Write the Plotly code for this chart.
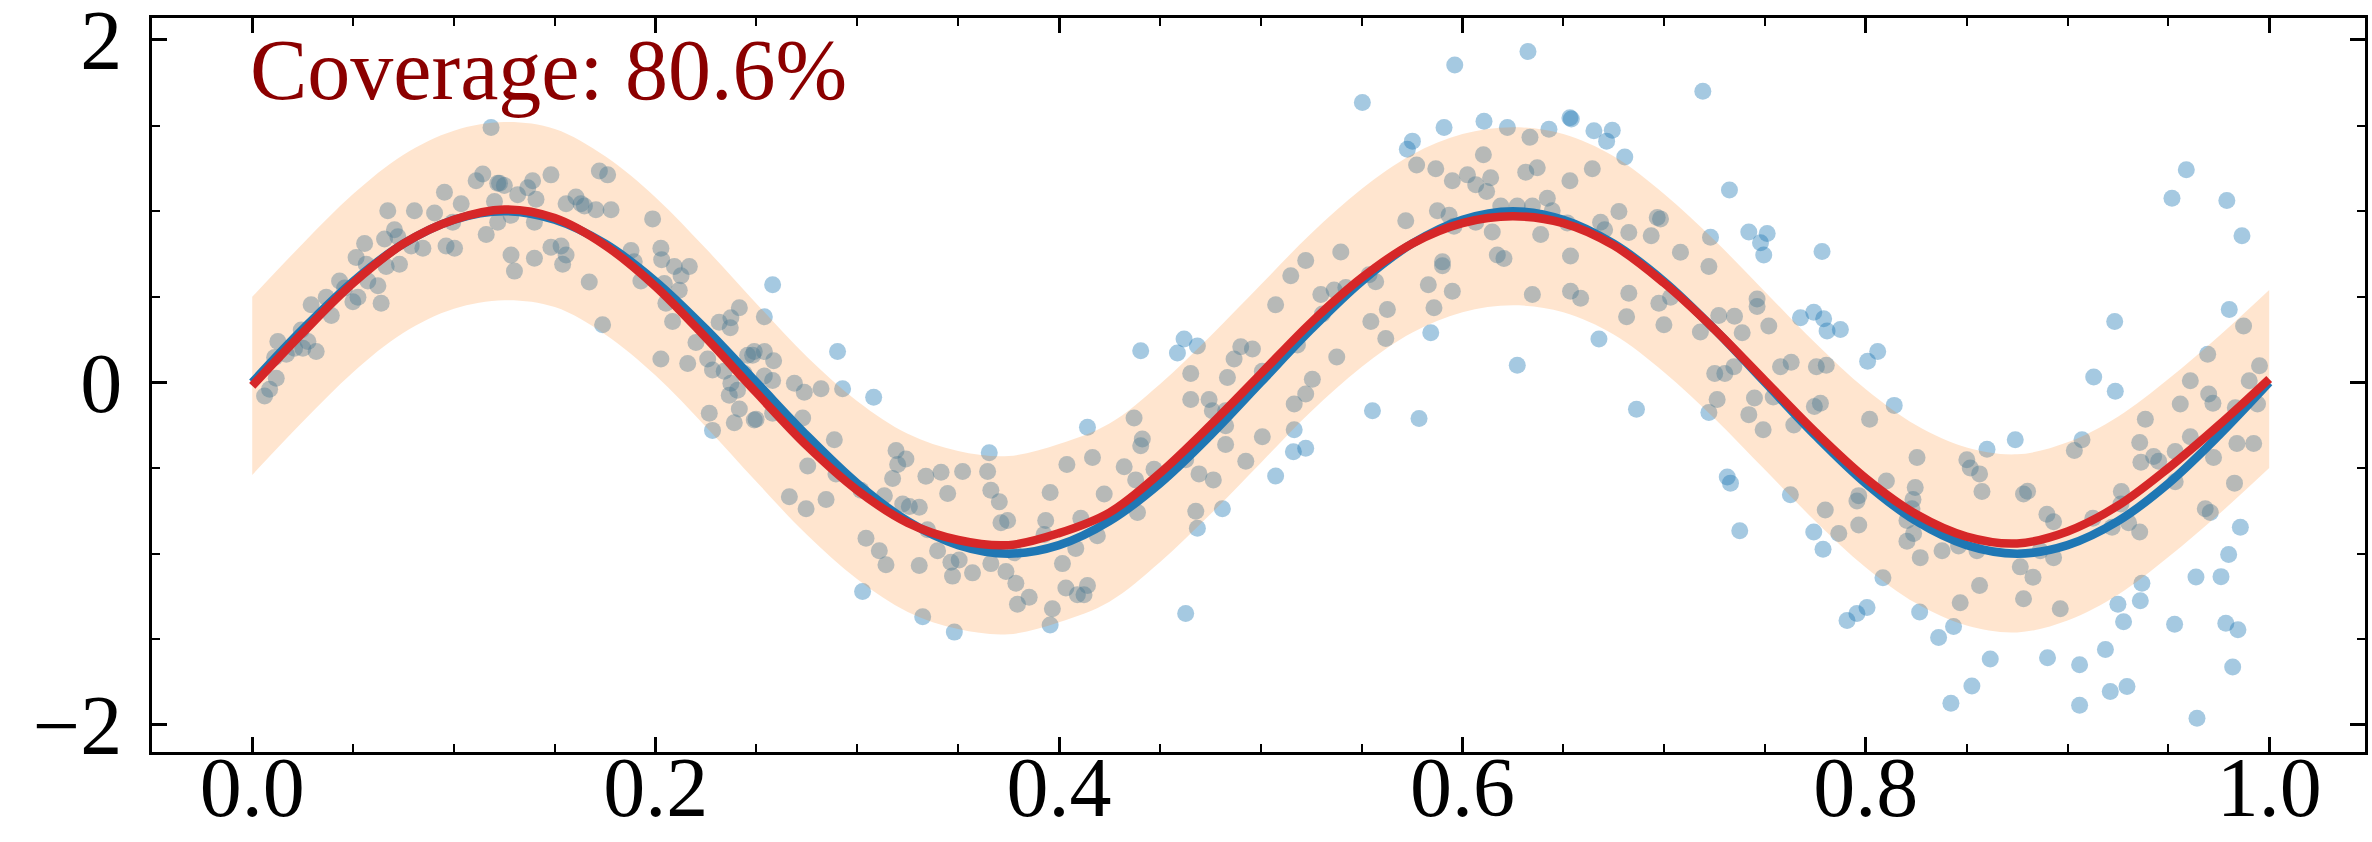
import plotly.graph_objects as go

# ---------------- data ----------------
x_obs = [
 0.0061,0.0086,0.0119,0.0127,0.0111,0.0169,0.0210,0.0243,0.0276,0.0251,0.0317,0.0292,0.0367,0.0392,0.0433,0.0458,0.0499,0.0524,0.0515,0.0557,
 0.0565,0.0573,0.0623,0.0639,0.0664,0.0656,0.0672,0.0705,0.0722,0.0730,0.0788,0.0804,0.0846,0.0904,0.0953,0.0961,0.1003,0.0994,0.1036,0.1110,
 0.1143,0.1160,0.1184,0.1201,0.1226,0.1217,
 0.1217,0.1250,0.1283,0.1316,0.1366,0.1390,0.1407,0.1481,0.1399,0.1283,0.1300,0.1399,0.1481,0.1531,0.1556,0.1539,0.1556,0.1605,0.1630,0.1647,
 0.1704,0.1721,0.1762,0.1779,0.1671,0.1737,0.1878,0.1894,0.1927,0.1985,0.2026,0.2030,0.2043,0.2093,0.2126,0.2167,0.2117,0.2051,0.2084,0.2026,
 0.2159,0.2200,0.2258,0.2282,0.2315,0.2373,0.2370,0.2415,0.2340,0.2373,0.2406,0.2456,0.2489,0.2365,0.2415,0.2390,0.2266,0.2282,0.2489,0.2439,
 0.2580,0.2539,0.2481,0.2539,0.2585,0.2539,0.2580,0.2498,0.2580,0.2688,0.2737,0.2820,0.2729,0.2927,0.2902,0.3081,0.2886,0.2894,0.2754,0.2663,
 0.2746,0.2845,0.3018,0.3134,0.3043,0.3109,0.3142,0.3026,0.3192,0.3200,0.3241,0.3175,0.3225,0.3258,0.3307,0.3348,0.3340,0.3415,0.3448,0.3522,
 0.3646,0.3654,0.3662,0.3704,0.3712,0.3745,0.3307,0.3398,0.3464,0.3505,0.3472,0.3571,0.3662,0.3737,0.3778,0.3786,0.3794,0.3324,0.3481,
 0.3852,0.3934,0.3926,0.3956,0.4017,0.4034,0.3967,0.3956,0.4091,0.4124,0.4141,0.4083,0.4108,0.4190,0.4224,0.4039,0.4166,0.4141,0.4323,0.4372,
 0.4405,0.4413,0.4380,0.4389,0.4471,0.4405,0.4587,0.4620,0.4686,0.4653,0.4653,0.4628,0.4694,0.4678,0.4686,0.4628,0.4744,0.4760,0.4826,0.4826,
 0.4826,0.4765,0.4810,0.4835,0.4868,0.4901,0.4959,0.5008,0.4926,0.5008,0.5074,0.5074,
 0.5149,0.5223,0.5166,0.5162,0.5223,0.5166,0.5223,0.5256,0.5182,0.5306,0.5298,0.5364,0.5422,0.5397,0.5377,0.5504,0.5537,0.5570,0.5546,0.5620,
 0.5628,0.5554,0.5719,0.5727,0.5752,0.5773,0.5785,0.5831,0.5843,0.5859,0.5868,0.5876,0.5901,0.5901,0.5909,0.5934,0.5950,0.5950,0.5958,0.5962,
 0.6025,0.6066,0.6066,0.6107,0.6104,0.6120,0.6140,0.6148,0.6173,0.6206,0.6190,0.6223,0.6272,0.6272,0.6325,0.6335,0.6314,0.6347,0.6347,0.6371,
 0.6388,
 0.6429,0.6421,0.6445,0.6533,0.6540,0.6533,0.6520,0.6536,0.6536,0.6586,0.6644,0.6652,0.6715,0.6743,0.6685,0.6705,0.6677,0.6776,0.6805,0.6825,
 0.6825,0.6814,0.6863,0.6936,0.6966,0.6982,0.6974,0.6999,0.7032,0.7081,0.7192,0.7180,0.7222,0.7230,0.7271,0.7251,0.7263,0.7222,0.7301,0.7346,
 0.7349,0.7387,0.7324,0.7420,0.7478,0.7511,0.7494,0.7461,0.7461,0.7519,0.7448,0.7420,0.7491,0.7541,0.7577,0.7630,0.7643,0.7313,0.7329,0.7375,
 0.7626,0.7676,
 0.7783,0.7742,0.7791,0.7808,0.7874,0.7755,0.7804,0.8009,0.8059,0.7745,0.7775,0.8019,0.8141,0.7799,0.7742,0.7788,0.7866,0.7965,0.7956,0.7965,
 0.8102,0.8254,0.8245,0.8234,0.8229,0.8204,0.8237,0.8204,0.8270,0.8085,0.8006,0.7956,0.7907,0.8267,0.8361,0.8435,0.8468,0.8378,0.8460,0.8551,
 0.8564,0.8501,0.8518,0.8564,0.8576,0.8601,0.8741,0.8782,0.8802,0.8766,0.8829,0.8782,0.8865,0.8898,0.8931,0.8931,0.8964,0.8617,0.8526,0.8422,
 0.8901,
 0.9034,0.9072,0.9060,0.9060,0.9130,0.9126,0.9188,0.9212,0.9295,0.9234,0.9237,0.9221,0.9267,0.9265,0.9303,0.9250,0.9278,0.9358,0.9369,0.9361,
 0.9358,0.9386,0.9364,0.9427,0.9452,0.9534,0.9534,0.9531,0.9518,0.9589,0.9559,0.9609,0.9609,0.9637,0.9642,0.9683,0.9708,0.9695,0.9700,0.9721,
 0.9724,0.9761,0.9785,0.9799,0.9819,0.9845,0.9790,0.9865,0.9802,0.9873,0.9832,0.9840,0.9828,0.9857,0.9901,0.9923,0.9942,0.9952,
]
y_obs = [
 -0.079,-0.040,0.025,0.239,0.145,0.164,0.199,0.306,0.239,0.199,0.180,0.453,0.498,0.391,0.592,0.552,0.471,0.498,0.730,0.811,
 0.690,0.592,0.565,0.463,0.677,0.837,1.003,0.891,0.851,0.690,0.797,1.003,0.784,0.989,1.110,0.797,0.784,0.936,1.043,1.177,
 1.217,0.864,1.489,1.056,1.163,0.936,
 1.163,1.150,0.976,1.096,1.137,1.177,1.070,1.212,0.936,0.744,0.650,0.725,0.789,0.797,0.744,0.690,1.043,1.083,1.043,1.030,
 1.008,1.235,1.212,1.008,0.586,0.337,0.770,0.704,0.592,0.955,0.784,0.717,0.578,0.677,0.623,0.677,0.538,0.463,0.356,0.137,
 0.110,0.233,0.137,0.073,0.351,0.378,0.319,0.436,0.065,-0.005,-0.045,0.159,0.180,-0.075,-0.155,-0.235,-0.180,-0.280,-0.220,0.052,
 0.570,0.383,0.159,0.180,0.126,0.038,0.011,-0.215,-0.180,-0.005,-0.058,-0.037,-0.208,-0.037,0.180,-0.086,-0.335,-0.534,-0.488,-0.667,
 -0.737,-0.684,-0.630,-0.662,-0.910,-0.983,-1.064,-1.221,-0.398,-0.479,-0.447,-0.561,-0.710,-0.724,-0.729,-0.860,-0.548,-0.525,-0.648,-0.520,
 -0.520,-0.411,-0.630,-0.697,-0.819,-0.806,-1.069,-0.983,-1.050,-1.037,-1.131,-1.112,-1.058,-1.104,-0.995,-1.172,-1.295,-1.368,-1.458,
 -1.254,-0.806,-0.888,-0.643,-1.058,-1.200,-1.322,-1.417,-1.240,-1.240,-1.186,-0.969,-0.793,-0.895,-0.652,-0.479,-0.438,-0.262,-0.493,-0.208,
 -0.370,-0.330,-0.569,-0.760,-0.507,0.185,0.172,0.254,0.213,0.052,-0.099,-0.452,-0.534,-0.752,-0.851,-1.349,-0.099,-0.166,-0.166,-0.253,
 -0.362,-0.569,-0.737,0.029,0.137,0.209,0.195,0.065,-0.460,-0.317,-0.547,0.453,
 0.623,0.712,-0.276,-0.405,-0.385,-0.126,-0.067,0.018,0.219,0.399,0.513,0.540,0.554,0.762,0.148,1.634,0.629,0.588,0.356,0.257,
 0.426,-0.166,0.944,1.361,1.409,1.269,-0.210,0.570,0.290,0.436,1.248,1.003,0.704,0.682,1.489,0.976,1.177,0.532,0.912,1.853,
 1.212,1.155,0.936,1.525,1.329,1.115,1.195,0.878,0.744,0.723,1.030,1.489,1.030,0.100,1.932,1.431,1.228,1.030,0.513,1.253,
 0.864,
 1.478,1.075,1.003,1.546,1.538,1.177,0.931,0.738,0.532,0.492,1.248,1.470,1.409,1.473,0.936,0.891,0.254,0.998,1.316,0.875,
 0.521,0.383,-0.156,0.856,0.963,0.955,0.463,0.337,0.498,0.760,1.700,0.295,0.677,0.848,0.391,0.052,-0.099,-0.175,0.052,0.092,
 0.386,0.290,1.123,0.878,0.816,0.869,0.744,0.487,0.444,0.329,-0.091,-0.188,-0.276,-0.085,0.092,0.118,-0.248,-0.552,-0.588,-0.866,
 -0.656,0.378,
 0.765,0.410,0.372,0.300,0.309,0.092,0.100,0.124,0.180,-0.140,-0.121,-0.215,-0.134,-0.745,-0.874,-0.974,-0.882,-0.661,-0.692,-0.833,
 -0.575,-0.438,-0.613,-0.684,-0.737,-0.806,-0.882,-0.928,-1.023,-1.140,-1.314,-1.349,-1.390,-1.341,-1.490,-1.425,-1.287,-0.983,-0.955,-0.983,
 -1.186,-0.452,-0.499,-0.534,-0.637,-0.390,-0.335,-0.652,-0.635,-1.077,-1.137,-1.263,-0.983,-0.770,-0.813,-1.023,-1.322,-1.615,-1.773,-1.873,
 -1.607,
 -0.398,-0.335,-1.648,-1.885,0.032,-0.793,-1.559,-1.805,-1.776,0.356,-0.052,-0.846,-0.637,-0.710,-0.819,-1.295,-1.398,-0.874,-1.172,-1.275,
 -0.351,-0.215,-0.466,-0.433,-0.460,-0.403,-0.580,-1.412,1.075,1.242,-0.126,0.010,-0.317,-1.136,-1.961,-0.737,-0.760,0.164,-0.067,-0.121,
 -0.438,-1.134,-1.406,-1.005,-1.662,-1.444,1.062,0.856,0.426,0.329,-0.148,-0.357,-0.588,-0.846,0.010,-0.357,-0.126,0.097,
]

x_curve = [0.000,0.025,0.050,0.075,0.100,0.125,0.150,0.175,0.200,0.225,0.250,0.275,0.300,0.325,0.350,0.375,0.400,0.425,0.450,0.475,
           0.500,0.525,0.550,0.575,0.600,0.625,0.650,0.675,0.700,0.725,0.750,0.775,0.800,0.825,0.850,0.875,0.900,0.925,0.950,0.975,1.000]
y_true = [0.00,0.31,0.59,0.81,0.95,1.00,0.95,0.81,0.59,0.31,0.00,-0.31,-0.59,-0.81,-0.95,-1.00,-0.95,-0.81,-0.59,-0.31,
          0.00,0.31,0.59,0.81,0.95,1.00,0.95,0.81,0.59,0.31,0.00,-0.31,-0.59,-0.81,-0.95,-1.00,-0.95,-0.81,-0.59,-0.31,0.00]
y_fit = [-0.02,0.29,0.58,0.81,0.95,1.01,0.96,0.80,0.56,0.26,-0.06,-0.37,-0.63,-0.82,-0.92,-0.95,-0.88,-0.76,-0.53,-0.25,
         0.05,0.35,0.61,0.81,0.93,0.97,0.93,0.80,0.58,0.31,0.01,-0.29,-0.56,-0.77,-0.90,-0.94,-0.87,-0.72,-0.50,-0.25,0.02]
band_upper = [0.50,0.81,1.10,1.33,1.47,1.52,1.48,1.32,1.08,0.78,0.46,0.15,-0.11,-0.30,-0.40,-0.43,-0.36,-0.24,-0.01,0.27,
              0.57,0.87,1.13,1.33,1.45,1.49,1.45,1.32,1.10,0.83,0.53,0.23,-0.04,-0.25,-0.38,-0.42,-0.35,-0.20,0.02,0.27,0.54]
band_lower = [-0.54,-0.23,0.06,0.29,0.43,0.48,0.44,0.28,0.04,-0.26,-0.58,-0.89,-1.15,-1.34,-1.44,-1.47,-1.40,-1.28,-1.05,-0.77,
              -0.47,-0.17,0.09,0.29,0.41,0.45,0.41,0.28,0.06,-0.21,-0.51,-0.81,-1.08,-1.29,-1.42,-1.46,-1.39,-1.24,-1.02,-0.77,-0.50]

coverage_text = "Coverage: 80.6%"
x_ticks = [0.0, 0.2, 0.4, 0.6, 0.8, 1.0]
y_ticks = [-2, 0, 2]

# ---------------- figure ----------------
FONT = "Liberation Serif"
fig = go.Figure()

fig.add_trace(go.Scatter(
    x=x_obs, y=y_obs, mode="markers",
    marker=dict(size=17, color="#1f77b4", opacity=0.4, line=dict(width=0)),
    showlegend=False, hoverinfo="skip"))

fig.add_trace(go.Scatter(
    x=x_curve, y=band_lower, mode="lines", line=dict(width=0, shape="spline"),
    showlegend=False, hoverinfo="skip"))
fig.add_trace(go.Scatter(
    x=x_curve, y=band_upper, mode="lines", line=dict(width=0, shape="spline"),
    fill="tonexty", fillcolor="rgba(255,127,14,0.2)",
    showlegend=False, hoverinfo="skip"))

fig.add_trace(go.Scatter(
    x=x_curve, y=y_true, mode="lines",
    line=dict(color="#1f77b4", width=8.5, shape="spline"),
    showlegend=False, hoverinfo="skip"))
fig.add_trace(go.Scatter(
    x=x_curve, y=y_fit, mode="lines",
    line=dict(color="#d62728", width=8.5, shape="spline"),
    showlegend=False, hoverinfo="skip"))

axis_common = dict(
    showgrid=False, zeroline=False, showline=True, linecolor="black", linewidth=3,
    mirror="ticks", ticks="inside", ticklen=15, tickwidth=2.5, tickcolor="black",
    tickfont=dict(family=FONT, size=84, color="black"),
    ticklabeloverflow="allow", automargin=False,
)

fig.update_xaxes(
    range=[-0.0497, 1.0475], tickmode="array", tickvals=x_ticks,
    ticktext=[f"{v:.1f}" for v in x_ticks], ticklabelstandoff=-40,
    minor=dict(ticks="inside", ticklen=8, tickwidth=2, tickcolor="black", dtick=0.05, showgrid=False),
    **axis_common)
fig.update_yaxes(
    range=[-2.158, 2.128], tickmode="array", tickvals=y_ticks,
    ticktext=["\u22122", "0", "2"], ticklabelstandoff=10,
    minor=dict(ticks="inside", ticklen=8, tickwidth=2, tickcolor="black", dtick=0.5, showgrid=False),
    **axis_common)

fig.add_annotation(
    text=coverage_text, xref="paper", yref="paper", x=0.0436, y=0.997,
    xanchor="left", yanchor="top", showarrow=False,
    font=dict(family=FONT, size=86, color="#8b0000"))

fig.update_layout(
    width=2372, height=842,
    margin=dict(l=152, r=7, t=18, b=90),
    plot_bgcolor="white", paper_bgcolor="white",
)

fig.write_html(
    "out.html",
    config={"displayModeBar": False},
    post_script="document.body.style.margin='0';document.body.style.overflow='hidden';",
)
